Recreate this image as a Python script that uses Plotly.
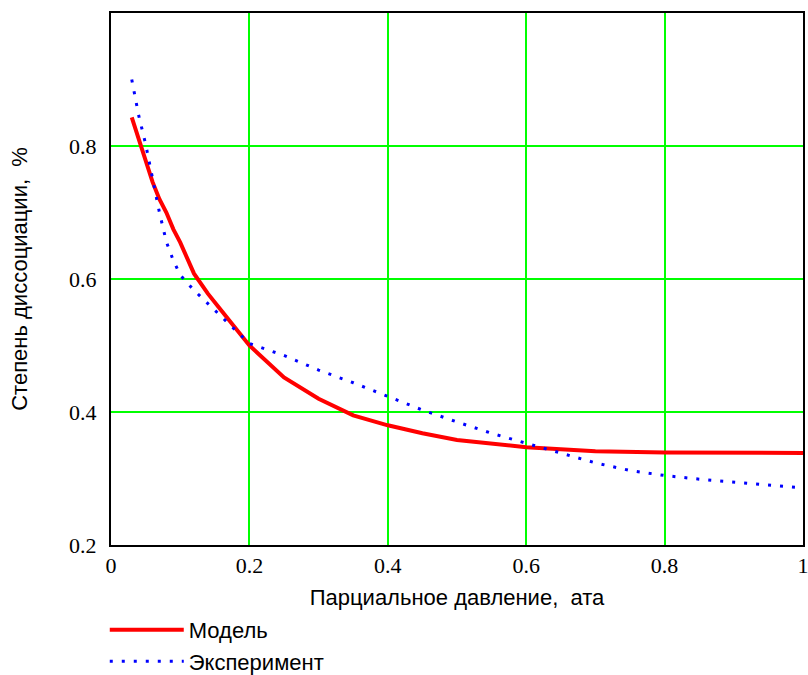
import plotly.graph_objects as go

# Partial pressure, atm
x_model = [0.03, 0.04, 0.05, 0.06, 0.07, 0.08, 0.09, 0.10, 0.12, 0.14, 0.16, 0.18,
           0.20, 0.25, 0.30, 0.35, 0.40, 0.45, 0.50, 0.60, 0.70, 0.80, 0.90, 1.00]
# Degree of dissociation, model
y_model = [0.843, 0.810, 0.778, 0.746, 0.720, 0.700, 0.675, 0.655, 0.608, 0.578, 0.552, 0.525,
           0.500, 0.452, 0.420, 0.395, 0.380, 0.368, 0.358, 0.347, 0.341, 0.339, 0.3385, 0.3385]

x_exp = [0.03, 0.04, 0.05, 0.06, 0.07, 0.08, 0.09, 0.10, 0.12, 0.15, 0.20, 0.25, 0.30, 0.35,
         0.40, 0.45, 0.50, 0.55, 0.60, 0.65, 0.70, 0.75, 0.80, 0.85, 0.90, 0.95, 1.00]
# Degree of dissociation, experiment
y_exp = [0.900, 0.846, 0.803, 0.752, 0.700, 0.656, 0.628, 0.606, 0.583, 0.553, 0.503, 0.485,
         0.463, 0.444, 0.424, 0.403, 0.385, 0.368, 0.353, 0.338, 0.3235, 0.312, 0.3045, 0.299,
         0.295, 0.291, 0.286]

x_ticks = [0, 0.2, 0.4, 0.6, 0.8, 1.0]
x_ticktext = ["0", "0.2", "0.4", "0.6", "0.8", "1"]
y_ticks = [0.2, 0.4, 0.6, 0.8]
y_ticktext = ["0.2", "0.4", "0.6", "0.8"]

sans = "Liberation Sans, Arial, sans-serif"
serif = "Liberation Serif, Times New Roman, serif"

fig = go.Figure()
fig.add_trace(go.Scatter(
    x=x_model, y=y_model, mode="lines", name="Модель",
    line=dict(color="#ff0000", width=4),
))
fig.add_trace(go.Scatter(
    x=x_exp, y=y_exp, mode="lines", name="Эксперимент",
    line=dict(color="#0000ff", width=3, dash="3px,9px"),
))

axis_common = dict(
    showline=True, linecolor="black", linewidth=2, mirror=True,
    showgrid=True, gridcolor="#00ff00", gridwidth=2,
    zeroline=False, ticks="", ticklabeloverflow="allow",
    tickfont=dict(family=serif, size=22, color="black"),
)

fig.update_xaxes(
    range=[0, 1], tickvals=x_ticks, ticktext=x_ticktext,
    title=dict(text="Парциальное давление,  ата",
               font=dict(family=sans, size=22, color="black"), standoff=12),
    ticklabelstandoff=0,
    **axis_common,
)
fig.update_yaxes(
    range=[0.2, 1.0], tickvals=y_ticks, ticktext=y_ticktext,
    title=dict(text="Степень диссоциации,  %",
               font=dict(family=sans, size=22, color="black"), standoff=35),
    ticklabelstandoff=8,
    **axis_common,
)

fig.update_layout(
    width=808, height=675,
    margin=dict(l=111, r=5, t=13, b=130, autoexpand=False),
    plot_bgcolor="white", paper_bgcolor="white",
    showlegend=True,
    legend=dict(
        x=-0.009, y=-0.12, xanchor="left", yanchor="top",
        font=dict(family=sans, size=22, color="black"),
        bgcolor="rgba(0,0,0,0)", itemwidth=74,
        traceorder="normal",
    ),
)

fig.write_html("out.html")
